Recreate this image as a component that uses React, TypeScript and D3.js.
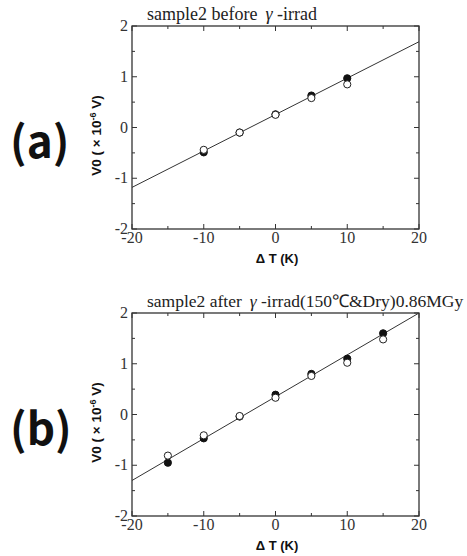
import React from "react";
import * as d3 from "d3";

const xTicks = [-20, -10, 0, 10, 20];
const yTicks = [-2, -1, 0, 1, 2];
const xMinor = [-15, -5, 5, 15];
const yMinor = [-1.5, -0.5, 0.5, 1.5];

const aFilled: [number, number][] = [[-10, -0.49], [-5, -0.1], [0, 0.26], [5, 0.63], [10, 0.97]];
const aOpen: [number, number][] = [[-10, -0.44], [-5, -0.1], [0, 0.25], [5, 0.58], [10, 0.85]];
const aFit: [number, number][] = [[-20, -1.18], [20, 1.69]];

const bFilled: [number, number][] = [[-15, -0.95], [-10, -0.47], [-5, -0.04], [0, 0.39], [5, 0.8], [10, 1.1], [15, 1.6]];
const bOpen: [number, number][] = [[-15, -0.81], [-10, -0.41], [-5, -0.03], [0, 0.33], [5, 0.76], [10, 1.02], [15, 1.48]];
const bFit: [number, number][] = [[-20, -1.3], [20, 2.0]];

const titleA = "sample2 before";
const titleB = "sample2 after";
const titleAEnd = " -irrad";
const titleBEnd = " -irrad(150℃&Dry)0.86MGy";

const SERIF = "'Liberation Serif', 'Times New Roman', serif";
const SANS = "'Liberation Sans', Arial, sans-serif";
const AXC = "#333";

function Panel({ top, filled, open, fit, title, titleEnd, label, titleSize }: any) {
  const left = 132, right = 419, h = 203;
  const x = d3.scaleLinear().domain([-20, 20]).range([left, right]);
  const y = d3.scaleLinear().domain([-2, 2]).range([top + h, top]);
  const line = d3.line<[number, number]>().x(d => x(d[0])).y(d => y(d[1]));
  const bottom = top + h;
  const ymid = top + h / 2;
  return (
    <g>
      <text x={10} y={ymid + 30} fontFamily="'Noto Sans CJK JP', 'Noto Sans', sans-serif" fontWeight="bold" fontSize={44} fill="#111">{label}</text>
      <text x={147} y={top - 6} fontFamily={SERIF} fontSize={titleSize} fill="#222">
        {title}<tspan dx={8} fontStyle="italic">γ</tspan>{titleEnd}
      </text>
      <defs>
        <clipPath id={"clip" + top}>
          <rect x={left} y={top} width={right - left} height={h} />
        </clipPath>
      </defs>
      <path d={line(fit) || ""} stroke="#333" strokeWidth={1} fill="none" clipPath={`url(#clip${top})`} />
      {xTicks.map(t => (
        <g key={"xt" + t}>
          <line x1={x(t)} x2={x(t)} y1={bottom} y2={bottom - 5} stroke={AXC} strokeWidth={1} />
          <line x1={x(t)} x2={x(t)} y1={top} y2={top + 5} stroke={AXC} strokeWidth={1} />
          <text x={x(t)} y={bottom + 14} textAnchor="middle" fontFamily={SERIF} fontSize={16} fill="#333">{t}</text>
        </g>
      ))}
      {xMinor.map(t => (
        <g key={"xm" + t}>
          <line x1={x(t)} x2={x(t)} y1={bottom} y2={bottom - 3} stroke={AXC} strokeWidth={1} />
          <line x1={x(t)} x2={x(t)} y1={top} y2={top + 3} stroke={AXC} strokeWidth={1} />
        </g>
      ))}
      {yTicks.map(t => (
        <g key={"yt" + t}>
          <line x1={left} x2={left + 5} y1={y(t)} y2={y(t)} stroke={AXC} strokeWidth={1} />
          <line x1={right} x2={right - 5} y1={y(t)} y2={y(t)} stroke={AXC} strokeWidth={1} />
          <text x={128} y={y(t) + 5} textAnchor="end" fontFamily={SERIF} fontSize={16} fill="#333">{t}</text>
        </g>
      ))}
      {yMinor.map(t => (
        <g key={"ym" + t}>
          <line x1={left} x2={left + 3} y1={y(t)} y2={y(t)} stroke={AXC} strokeWidth={1} />
          <line x1={right} x2={right - 3} y1={y(t)} y2={y(t)} stroke={AXC} strokeWidth={1} />
        </g>
      ))}
      <rect x={left} y={top} width={right - left} height={h} fill="none" stroke={AXC} strokeWidth={1.3} />
      {filled.map((d: [number, number], i: number) => (
        <circle key={"f" + i} cx={x(d[0])} cy={y(d[1])} r={3.6} fill="#111" stroke="#111" strokeWidth={1} />
      ))}
      {open.map((d: [number, number], i: number) => (
        <circle key={"o" + i} cx={x(d[0])} cy={y(d[1])} r={3.6} fill="#fff" stroke="#222" strokeWidth={1} />
      ))}
      <text x={277} y={bottom + 34} textAnchor="middle" fontFamily={SANS} fontWeight="bold" fontSize={13} fill="#111">Δ T (K)</text>
      <text transform={`translate(101,${ymid + 8}) rotate(-90)`} textAnchor="middle" fontFamily={SANS} fontWeight="bold" fontSize={13.5} fill="#111">
        V0 ( × 10<tspan fontSize={9} dy={-5}>-6</tspan><tspan dy={5}> V)</tspan>
      </text>
    </g>
  );
}

export default function App() {
  return (
    <svg width={467} height={556} style={{ position: "absolute", left: 0, top: 0, background: "#fff" }}>
      <rect width={467} height={556} fill="#fff" />
      <Panel top={26} filled={aFilled} open={aOpen} fit={aFit} title={titleA} titleEnd={titleAEnd} label="(a)" titleSize={18} />
      <Panel top={313} filled={bFilled} open={bOpen} fit={bFit} title={titleB} titleEnd={titleBEnd} label="(b)" titleSize={17.5} />
    </svg>
  );
}
